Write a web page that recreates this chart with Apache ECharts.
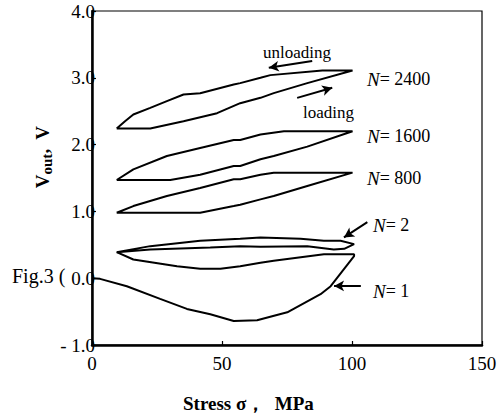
<!DOCTYPE html>
<html>
<head>
<meta charset="utf-8">
<script src="https://cdn.jsdelivr.net/npm/echarts@6/dist/echarts.min.js"></script>
<style>
  html, body { margin: 0; padding: 0; background: #fff; }
  #chart { width: 501px; height: 419px; }
</style>
</head>
<body>
<div id="chart"></div>
<script>
(function() {
  var serif = "'Liberation Serif', 'Times New Roman', serif";
  var ink = '#000';

  // axis ticks
  var xTicks = { min: 0, max: 150, step: 50 };
  var yTicks = { min: -1, max: 4, step: 1 };

  // stress (MPa), Vout (V)
  var n1Load = [[0, 0.0], [3.1, -0.01], [13.4, -0.12], [26.2, -0.31], [36.5, -0.46], [45.5, -0.54],
    [54.5, -0.64], [63.5, -0.63], [75.1, -0.51], [87.9, -0.24], [91.8, -0.12], [100.8, 0.33]];
  var n1Unload = [[100.8, 0.36], [89.2, 0.36], [69.9, 0.26], [64.8, 0.23], [57, 0.18], [49.4, 0.14],
    [41.6, 0.14], [32.7, 0.18], [15.9, 0.28], [9.5, 0.39]];

  var n2Load = [[9.5, 0.39], [22.4, 0.43], [45.5, 0.46], [57, 0.48], [64.8, 0.47], [82.8, 0.48],
    [93, 0.43], [97, 0.44], [100.8, 0.51]];
  var n2Unload = [[100.8, 0.51], [95.6, 0.56], [89.2, 0.56], [80.2, 0.59], [64.8, 0.61], [57, 0.59],
    [41.6, 0.56], [22.4, 0.48], [9.5, 0.39]];

  var n800Load = [[9.5, 0.98], [41.6, 0.98], [54.5, 1.08], [57, 1.10], [64.8, 1.18], [69.9, 1.23],
    [82.8, 1.38], [100.2, 1.58]];
  var n800Unload = [[100.2, 1.58], [69.9, 1.58], [64.8, 1.55], [57, 1.48], [54.5, 1.48], [41.6, 1.35],
    [28.8, 1.23], [15.9, 1.08], [9.5, 0.98]];

  var n1600Load = [[9.5, 1.47], [30.1, 1.47], [41.6, 1.55], [54.5, 1.68], [57, 1.68], [64.8, 1.78],
    [69.9, 1.83], [82.8, 1.97], [100.2, 2.20]];
  var n1600Unload = [[100.2, 2.20], [73.8, 2.20], [64.8, 2.15], [57, 2.07], [54.5, 2.07], [41.6, 1.95],
    [28.8, 1.83], [15.9, 1.63], [9.5, 1.47]];

  var n2400Load = [[9.5, 2.24], [22.4, 2.24], [35.2, 2.35], [48.1, 2.47], [57, 2.62], [64.8, 2.70],
    [69.9, 2.77], [82.8, 2.92], [100.2, 3.11]];
  var n2400Unload = [[100.2, 3.11], [88.6, 3.11], [68.6, 3.04], [64.8, 3.0], [57, 2.92], [54.5, 2.90],
    [41.6, 2.77], [35.2, 2.75], [28.8, 2.65], [22.4, 2.55], [15.9, 2.45], [12.7, 2.35], [9.5, 2.24]];

  // annotation arrows, in data units: [from, to]
  var arrowUnloading = [[84.7, 3.25], [68.0, 3.15]];
  var arrowLoading = [[78.9, 2.70], [92.4, 2.85]];
  var arrowN2 = [[105.9, 0.84], [96.9, 0.61]];
  var arrowN1 = [[103.4, -0.115], [93.1, -0.115]];

  function loop(name, load, unload) {
    return {
      name: name,
      type: 'line',
      data: load.concat(unload),
      showSymbol: false,
      lineStyle: { color: ink, width: 2 },
      z: 3
    };
  }

  function arrowLine(a) {
    return [{ coord: a[0] }, { coord: a[1] }];
  }

  function nLabel(x, y, val) {
    return {
      type: 'text', x: x, y: y,
      style: {
        text: '{i|N}{r|= ' + val + '}',
        verticalAlign: 'middle',
        rich: {
          i: { fontFamily: serif, fontStyle: 'italic', fontSize: 19, fill: ink },
          r: { fontFamily: serif, fontSize: 18, fill: ink }
        }
      }
    };
  }

  var chart = echarts.init(document.getElementById('chart'), null, { renderer: 'svg' });
  chart.setOption({
    animation: false,
    backgroundColor: '#fff',
    grid: { left: 92, right: 19, top: 11, bottom: 74, show: true, borderColor: ink, borderWidth: 1.2 },
    xAxis: {
      type: 'value',
      min: xTicks.min, max: xTicks.max, interval: xTicks.step,
      axisLine: { show: true, onZero: false, lineStyle: { color: ink, width: 2.5 } },
      axisTick: { show: true, inside: true, length: 4, lineStyle: { color: ink, width: 1.2 } },
      splitLine: { show: false },
      axisLabel: { color: ink, fontFamily: serif, fontSize: 19, margin: 9 }
    },
    yAxis: {
      type: 'value',
      min: yTicks.min, max: yTicks.max, interval: yTicks.step,
      axisLine: { show: true, onZero: false, lineStyle: { color: ink, width: 2.5 } },
      axisTick: { show: true, inside: true, length: 4, lineStyle: { color: ink, width: 1.2 } },
      splitLine: { show: false },
      axisLabel: {
        color: ink, fontFamily: serif, fontSize: 19, margin: -3,
        padding: [10, 0, 0, 0],
        formatter: function(v) { return v < 0 ? '- ' + Math.abs(v).toFixed(1) : v.toFixed(1); }
      }
    },
    series: [
      loop('N=1', n1Load, n1Unload),
      loop('N=2', n2Load, n2Unload),
      loop('N=800', n800Load, n800Unload),
      loop('N=1600', n1600Load, n1600Unload),
      Object.assign(loop('N=2400', n2400Load, n2400Unload), {
        markLine: {
          silent: true,
          symbol: ['none', 'arrow'],
          symbolSize: [8, 10],
          label: { show: false },
          lineStyle: { color: ink, width: 2, type: 'solid' },
          data: [arrowLine(arrowUnloading), arrowLine(arrowLoading), arrowLine(arrowN2), arrowLine(arrowN1)]
        }
      })
    ],
    graphic: [
      { type: 'text', x: 263, y: 52, style: { text: 'unloading', font: '17px ' + serif, fill: ink, verticalAlign: 'middle' } },
      { type: 'text', x: 303, y: 112, style: { text: 'loading', font: '17px ' + serif, fill: ink, verticalAlign: 'middle' } },
      nLabel(367, 79, '2400'),
      nLabel(367, 136, '1600'),
      nLabel(367, 178, '800'),
      nLabel(373, 225, '2'),
      nLabel(373, 291, '1'),
      { type: 'text', x: 12, y: 276, z: -1, style: { text: 'Fig.3 (', font: '20px ' + serif, fill: ink, verticalAlign: 'middle' } },
      {
        type: 'text', x: 42, y: 157, rotation: Math.PI / 2,
        style: {
          text: '{v|V}{s|out}{v|,  V}',
          align: 'center', verticalAlign: 'middle',
          rich: {
            v: { fontFamily: serif, fontWeight: 'bold', fontSize: 19, fill: ink },
            s: { fontFamily: serif, fontWeight: 'bold', fontSize: 15, fill: ink, padding: [10, 0, 0, 0] }
          }
        }
      },
      { type: 'text', x: 183, y: 403, style: { text: 'Stress σ，  MPa', font: 'bold 19px ' + serif, fill: ink, verticalAlign: 'middle' } }
    ]
  });
  window.addEventListener('resize', function() { chart.resize(); });
})();
</script>
</body>
</html>
